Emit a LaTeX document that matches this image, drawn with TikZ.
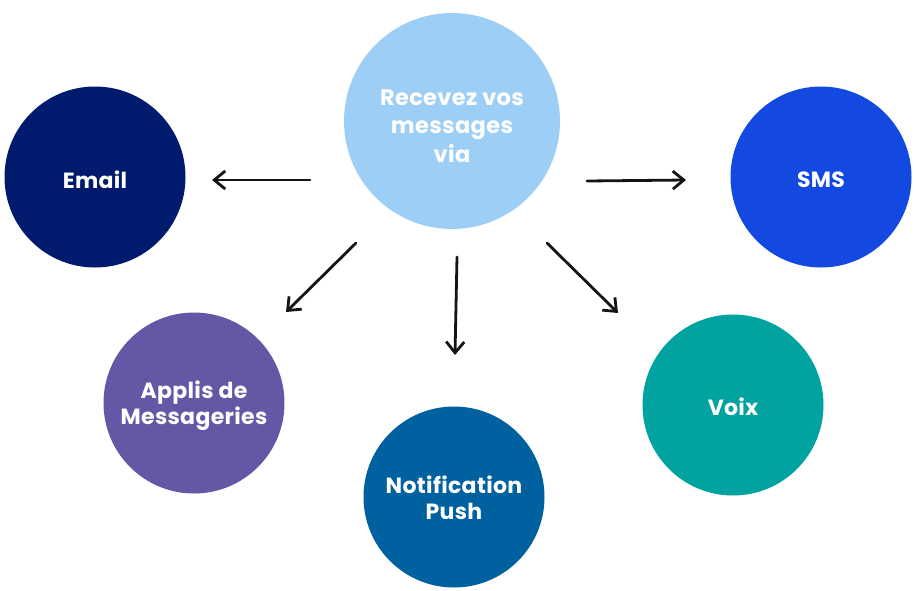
\documentclass[tikz,border=0pt]{standalone}
\usepackage{fontspec}
\setmainfont{Poppins}[LetterSpace=1.5]
\usetikzlibrary{arrows.meta,calc}
\definecolor{hubc}{HTML}{9DCEF5}
\definecolor{emailc}{HTML}{001A6E}
\definecolor{smsc}{HTML}{1349E0}
\definecolor{applisc}{HTML}{6657A6}
\definecolor{pushc}{HTML}{0061A0}
\definecolor{voixc}{HTML}{00A39F}
\definecolor{arrc}{HTML}{141414}
\tikzset{
  bubble/.style={circle, inner sep=0pt, minimum size=181pt, text=white,
    align=center, font=\fontsize{22}{26}\selectfont\bfseries},
  hubbubble/.style={bubble, minimum size=216pt, font=\fontsize{22.5}{28.5}\selectfont\bfseries},
  lbl/.style={text=white, align=center, font=\fontsize{22}{26}\selectfont\bfseries},
  arr/.style={draw=arrc, line width=2.8pt, line cap=round,
    -{Straight Barb[length=11pt,width=18pt,line width=2.8pt]}}
}
\begin{document}
\begin{tikzpicture}[x=1pt,y=-1pt]
\useasboundingbox (0,0) rectangle (916,590);
\node[hubbubble, fill=hubc] (hub) at (452,121) {};
\node[lbl, font=\fontsize{22.5}{28.5}\selectfont\bfseries] (hubtxt) at (452,126) {Recevez vos\\messages\\via};
\node[bubble, fill=emailc] (email) at (95,177) {};
\node[lbl] (emailtxt) at (95,180) {Email};
\node[bubble, fill=smsc] (sms) at (821,177) {};
\node[lbl] (smstxt) at (821,180) {SMS};
\node[bubble, fill=applisc] (applis) at (194,403) {};
\node[lbl] (applistxt) at (194,406) {Applis de\\Messageries};
\node[bubble, fill=pushc] (push) at (454,497) {};
\node[lbl] (pushtxt) at (454,498) {Notification\\Push};
\node[bubble, fill=voixc] (voix) at (733,405) {};
\node[lbl] (voixtxt) at (733,407) {Voix};
\draw[arr] ($(hub.center)+(-142,59)$) -- ($(email.center)+(117,3)$);
\draw[arr] ($(hub.center)+(135,60)$) -- ($(sms.center)+(-135,3)$);
\draw[arr] ($(hub.center)+(-96,122)$) -- ($(applis.center)+(92,-91)$);
\draw[arr] ($(hub.center)+(5,136)$) -- ($(push.center)+(1,-142)$);
\draw[arr] ($(hub.center)+(95,122)$) -- ($(voix.center)+(-115,-92)$);
\end{tikzpicture}
\end{document}
